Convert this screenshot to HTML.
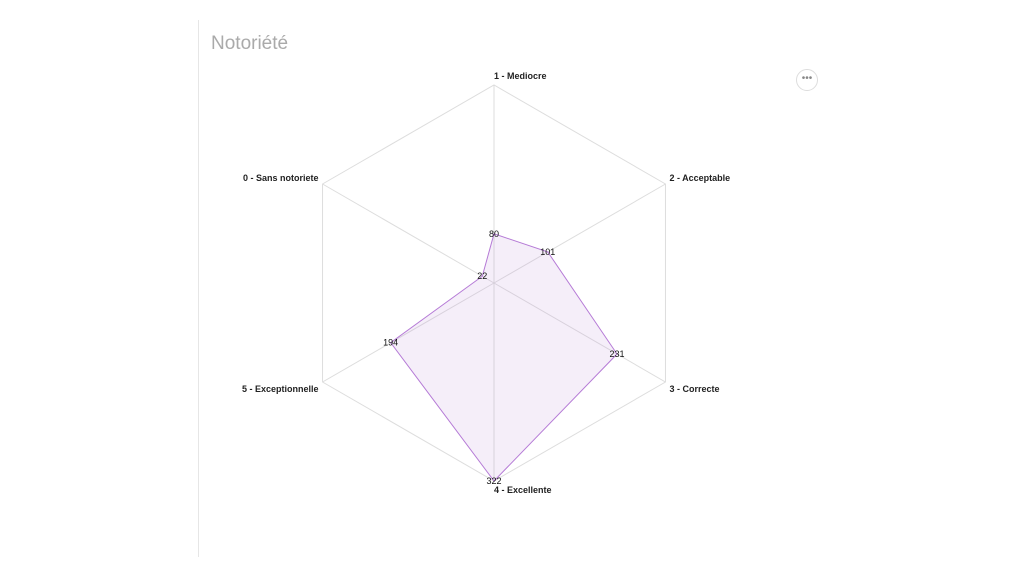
<!DOCTYPE html>
<html><head><meta charset="utf-8"><style>
body{margin:0;background:#fff;width:1024px;height:576px;overflow:hidden;font-family:"Liberation Sans",sans-serif}
#border{position:absolute;left:198px;top:20px;width:1px;height:537px;background:#e6e6e6}
#title{position:absolute;left:211px;top:33px;font-size:19px;color:#aaa}
#menu{position:absolute;left:796px;top:69px;width:20px;height:20px;border:1px solid #ddd;border-radius:50%;font-size:10px;color:#888;text-align:center;line-height:18px}
svg{position:absolute;left:0;top:0}
</style></head><body>
<div id="border"></div>
<div id="title">Notoriété</div>
<div id="menu">•••</div>
<svg id="chart" width="1024" height="576"></svg>
<script>
const categories=["0 - Sans notoriete","1 - Mediocre","2 - Acceptable","3 - Correcte","4 - Excellente","5 - Exceptionnelle"];
const values=[22,80,101,231,322,194];
const maxValue=322;
const NS="http://www.w3.org/2000/svg";
const svg=document.getElementById('chart');
const cx=494,cy=283,R=198;
function ang(i){return (i-1)*Math.PI/3;}
function pt(i,v){const r=v/maxValue*R;return [cx+r*Math.sin(ang(i)),cy-r*Math.cos(ang(i))];}
function mk(t,a){const e=document.createElementNS(NS,t);for(const k in a)e.setAttribute(k,a[k]);svg.appendChild(e);return e;}
const n=categories.length;
let ring=[];
for(let i=0;i<n;i++){const p=pt(i,maxValue);ring.push(p.join(','));
 const s=mk('line',{x1:cx,y1:cy,x2:p[0],y2:p[1],stroke:'#ddd','stroke-width':1});
 
 
 const vert=Math.abs(p[0]-cx)<1;
 const lx=vert?p[0]:(p[0]>cx?p[0]+4:p[0]-4);
 const ly=vert?(p[1]<cy?p[1]-6:p[1]+12):(p[1]<cy?p[1]-3:p[1]+10);
 const t=mk('text',{x:lx,y:ly,'font-size':9,'font-weight':'bold',fill:'#222','text-anchor':vert?'start':(p[0]>cx?'start':'end')});
 t.textContent=categories[i];
 
 
}
const g=mk('polygon',{points:ring.join(' '),fill:'none',stroke:'#ddd','stroke-width':1});


const pts=values.map((v,i)=>pt(i,v).join(','));
const poly=mk('polygon',{points:pts.join(' '),fill:'rgba(190,150,220,0.16)',stroke:'#b57ad6','stroke-width':1});


values.forEach((v,i)=>{const p=pt(i,v);
 const t=mk('text',{x:p[0],y:p[1]+3,'font-size':9,fill:'#111','text-anchor':'middle'});
 t.textContent=v;
 
 
});
</script>
</body></html>
